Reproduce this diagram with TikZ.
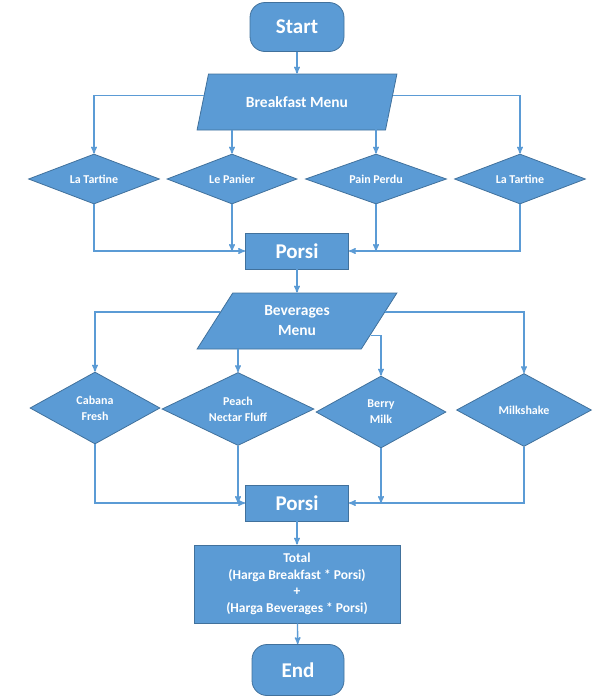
\documentclass[tikz,border=0pt]{standalone}
\usepackage{fontspec}
\setmainfont{Carlito}
\usetikzlibrary{shapes.geometric,arrows,calc,positioning}
\definecolor{flowblue}{HTML}{5B9BD5}
\definecolor{flowedge}{HTML}{41719C}

\begin{document}
\begin{tikzpicture}[x=1pt,y=-1pt,>=stealth',
	basenode/.style={fill=flowblue,draw=flowedge,line width=0.8pt,text=white,font=\bfseries,inner sep=0pt},
	termnode/.style={basenode,rectangle,rounded corners=15pt,minimum width=94pt,minimum height=49pt,font=\bfseries\fontsize{21}{24}\selectfont},
	porsinode/.style={basenode,rectangle,minimum width=103pt,minimum height=36pt,font=\bfseries\fontsize{21}{24}\selectfont},
	ionode/.style={basenode,trapezium,trapezium left angle=59,trapezium right angle=121,trapezium stretches=true,minimum width=200pt,minimum height=56pt,align=center,font=\bfseries\fontsize{15.5}{20}\selectfont},
	choicenode/.style={basenode,diamond,shape aspect=2.2,align=center,font=\bfseries\fontsize{12}{16}\selectfont},
	conn/.style={->,draw=flowblue,line width=1.4pt}]

	\useasboundingbox (0,0) rectangle (594,697);

	\node [termnode] (start) at (297, 27) {Start};
	\node [ionode] (bmenu) at (297, 102) {Breakfast Menu};
	\node [choicenode,minimum width=131pt,minimum height=50pt] (b1) at (94, 179) {La Tartine};
	\node [choicenode,minimum width=130pt,minimum height=50pt] (b2) at (232, 179) {Le Panier};
	\node [choicenode,minimum width=141pt,minimum height=50pt] (b3) at (376, 179) {Pain Perdu};
	\node [choicenode,minimum width=131pt,minimum height=50pt] (b4) at (520, 179) {La Tartine};
	\node [porsinode] (porsi1) at (297, 251) {Porsi};
	\node [ionode] (vmenu) at (297, 321) {Beverages\\Menu};
	\node [choicenode,minimum width=130pt,minimum height=72pt] (v1) at (95, 408) {Cabana\\Fresh};
	\node [choicenode,minimum width=152pt,minimum height=73pt] (v2) at (238, 409) {Peach\\Nectar Fluff};
	\node [choicenode,minimum width=130pt,minimum height=72pt] (v3) at (381, 412) {Berry\\Milk};
	\node [choicenode,minimum width=135pt,minimum height=73pt] (v4) at (524, 410) {Milkshake};
	\node [porsinode] (porsi2) at (297, 503) {Porsi};
	\node [basenode,rectangle,minimum width=206pt,minimum height=78pt,align=center,font=\bfseries\fontsize{13.5}{16.5}\selectfont] (total) at (297, 584) {Total\\(Harga Breakfast * Porsi)\\+\\(Harga Beverages * Porsi)};
	\node [termnode,minimum width=92pt,minimum height=51pt] (stop) at (298, 670) {End};

	\draw [conn] (start) to (bmenu);
	\draw [conn] ($(bmenu.top left corner)!0.39!(bmenu.bottom left corner)$) -| (b1.north);
	\draw [conn] (bmenu.south -| b2.north) to (b2.north);
	\draw [conn] ($(bmenu.top right corner)!0.79!(bmenu.bottom right corner)$) -| (b3.north);
	\draw [conn] ($(bmenu.top right corner)!0.39!(bmenu.bottom right corner)$) -| (b4.north);

	\draw [conn] (b1.south) |- (porsi1.west);
	\draw [conn] (b2.south) to (b2.south |- porsi1.west);
	\draw [conn] (b3.south) to (b3.south |- porsi1.east);
	\draw [conn] (b4.south) |- (porsi1.east);

	\draw [conn] (porsi1) to (vmenu);
	\draw [conn] ($(vmenu.top left corner)!0.34!(vmenu.bottom left corner)$) -| (v1.north);
	\draw [conn] (vmenu.south -| v2.north) to (v2.north);
	\draw [conn] ($(vmenu.top right corner)!0.75!(vmenu.bottom right corner)$) -| (v3.north);
	\draw [conn] ($(vmenu.top right corner)!0.34!(vmenu.bottom right corner)$) -| (v4.north);

	\draw [conn] (v1.south) |- (porsi2.west);
	\draw [conn] (v2.south) to (v2.south |- porsi2.west);
	\draw [conn] (v3.south) to (v3.south |- porsi2.east);
	\draw [conn] (v4.south) |- (porsi2.east);

	\draw [conn] (porsi2) to (total);
	\draw [conn] (total) to (stop);
\end{tikzpicture}
\end{document}
